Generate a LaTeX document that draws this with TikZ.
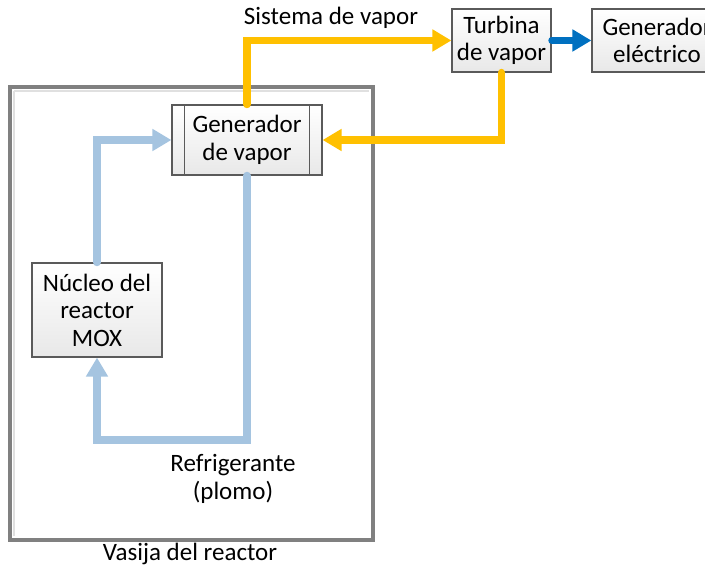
\documentclass[tikz,border=0pt]{standalone}
\usepackage{fontspec}
\setmainfont{Carlito}
\usepackage{tikz}
\usetikzlibrary{arrows.meta}

\definecolor{vaporcol}{RGB}{255,192,0}
\definecolor{refrigcol}{RGB}{165,196,224}
\definecolor{elecblue}{RGB}{0,112,192}
\definecolor{boxline}{RGB}{90,90,90}
\definecolor{boxfill}{RGB}{232,232,232}
\definecolor{framegray}{RGB}{128,128,128}

\tikzset{
  block/.style={draw=boxline, line width=1.1pt, top color=white, bottom color=boxfill,
    align=center, inner sep=0pt},
  flow/.style={line width=7.5pt, line cap=round, -{Triangle[length=19pt,width=21pt]}},
  txt/.style={align=center, inner sep=0pt}
}

\begin{document}
\begin{tikzpicture}[x=1pt,y=-1pt,font=\fontsize{25}{27.5}\selectfont]
            \clip (0,0) rectangle (705,567);
            % vasija
            \draw[framegray, line width=4pt] (10,87) rectangle (373,540);
            \draw[black!12, line width=2pt] (14,91) -- (14,536);
            \draw[black!12, line width=2pt] (14,91) -- (369,91);
            % cajas
            \node[block, minimum width=150pt, minimum height=70pt] (gen) at (247,140) {Generador\\de vapor};
            \draw[boxline, line width=1.1pt] ([xshift=13pt]gen.north west) -- ([xshift=13pt]gen.south west);
            \draw[boxline, line width=1.1pt] ([xshift=-13pt]gen.north east) -- ([xshift=-13pt]gen.south east);
            \node[block, minimum width=130pt, minimum height=94pt] (nucleo) at (97,310) {Núcleo del\\reactor\\MOX};
            \node[block, minimum width=99pt, minimum height=63pt] (turb) at (501.5,40.5) {Turbina\\de vapor};
            \node[block, minimum width=130pt, minimum height=63pt] (elec) at (657,40.5) {Generador\\eléctrico};
            % flujos
            \draw[flow, vaporcol] (gen.north) |- (turb.west);
            \draw[flow, vaporcol] (turb.south) |- (gen.east);
            \draw[flow, elecblue, line width=6.5pt] (turb.east) -- (elec.west);
            \draw[flow, refrigcol] (nucleo.north) |- (gen.west);
            \draw[flow, refrigcol] (gen.south) -- (gen.south |- 0,440) -| (nucleo.south);
            % textos
            \node[txt] (sistema) at (331,18) {Sistema de vapor};
            \node[txt] (refrig) at (233,479) {Refrigerante\\(plomo)};
            \node[txt] (vasija) at (190,554) {Vasija del reactor};
        \end{tikzpicture}
\end{document}
